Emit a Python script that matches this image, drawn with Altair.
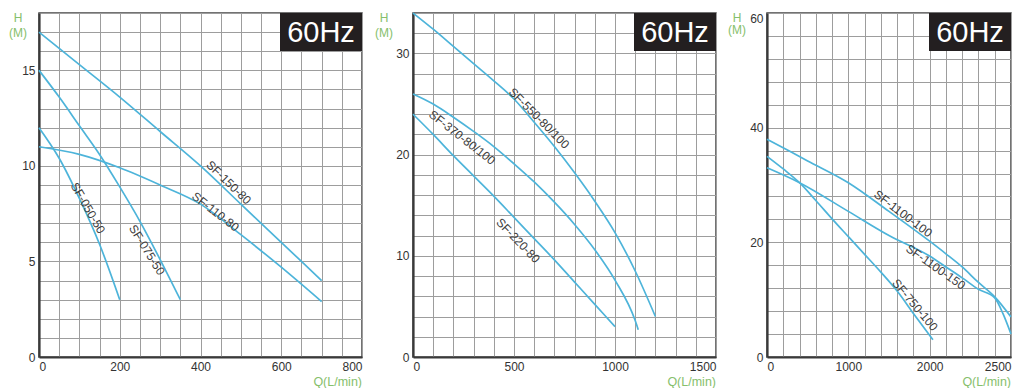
import altair as alt
import pandas as pd

# ---------------- Panel 1: Q 0-800 L/min, H 0-18 m ----------------
Q_050_50 = [0, 50, 100, 150, 200]
H_050_50 = [12.0, 10.4, 8.3, 5.9, 3.0]
Q_075_50 = [0, 50, 100, 150, 200, 250, 300, 350]
H_075_50 = [15.0, 13.6, 12.1, 10.6, 8.9, 7.1, 5.1, 3.0]
Q_110_80 = [0, 100, 200, 300, 400, 500, 600, 700]
H_110_80 = [11.0, 10.6, 9.9, 9.0, 8.0, 6.4, 4.7, 2.9]
Q_150_80 = [0, 100, 200, 300, 400, 500, 600, 700]
H_150_80 = [17.0, 15.3, 13.6, 11.8, 10.0, 8.0, 6.0, 4.0]

P1_LABELS = ["SF-150-80", "SF-110-80", "SF-050-50", "SF-075-50"]
P1_LABEL_Q = [470, 437, 121, 267]
P1_LABEL_H = [9.13, 7.6, 7.8, 5.6]
P1_LABEL_ANGLE = [44, 38, 60, 58]

# ---------------- Panel 2: Q 0-1500 L/min, H 0-34 m ----------------
Q_220_80 = [0, 100, 200, 300, 400, 500, 600, 700, 800, 900, 1000]
H_220_80 = [24.0, 22.0, 19.9, 17.9, 15.9, 13.8, 11.7, 9.6, 7.4, 5.2, 3.0]
Q_370_80 = [0, 100, 200, 300, 400, 500, 600, 700, 800, 900, 1000, 1100, 1115]
H_370_80 = [26.0, 25.0, 23.7, 22.3, 20.8, 19.1, 17.3, 15.3, 13.1, 10.6, 7.6, 3.6, 2.7]
Q_550_80 = [0, 100, 200, 300, 400, 500, 600, 700, 800, 900, 1000, 1100, 1200]
H_550_80 = [34.0, 32.4, 30.7, 29.0, 27.3, 25.5, 23.2, 20.8, 18.2, 15.4, 12.3, 8.5, 4.0]

P2_LABELS = ["SF-550-80/100", "SF-370-80/100", "SF-220-80"]
P2_LABEL_Q = [624, 243, 520]
P2_LABEL_H = [23.6, 21.7, 11.5]
P2_LABEL_ANGLE = [45, 38, 46]

# ---------------- Panel 3: Q 0-2500 L/min, H 0-60 m ----------------
Q_750_100 = [0, 200, 400, 600, 800, 1000, 1200, 1400, 1600, 1800, 2020]
H_750_100 = [35.0, 32.8, 30.4, 27.3, 24.1, 21.0, 17.9, 14.8, 11.5, 7.6, 3.0]
Q_1100_100 = [0, 500, 1000, 1500, 2000, 2100, 2200, 2300, 2400, 2500]
H_1100_100 = [38.0, 34.2, 30.4, 25.4, 20.2, 18.0, 15.7, 13.0, 10.5, 7.0]
Q_1100_150 = [0, 400, 1000, 1500, 2000, 2100, 2200, 2300, 2400, 2450, 2500]
H_1100_150 = [33.0, 30.4, 25.4, 21.2, 17.6, 15.7, 13.8, 11.8, 10.3, 7.6, 4.0]

P3_LABELS = ["SF-1100-100", "SF-1100-150", "SF-750-100"]
P3_LABEL_Q = [1673, 2037, 1820]
P3_LABEL_H = [25.0, 15.7, 9.06]
P3_LABEL_ANGLE = [37, 35, 50]

# axis grids / tick labels
P1_XGRID = list(range(0, 801, 50))
P1_XLAB = [0, 200, 400, 600, 800]
P1_YGRID = list(range(0, 19, 1))
P1_YLAB = [0, 5, 10, 15]
P2_XGRID = list(range(0, 1501, 100))
P2_XLAB = [0, 500, 1000, 1500]
P2_YGRID = list(range(0, 35, 2))
P2_YLAB = [0, 10, 20, 30]
P3_XGRID = list(range(0, 2001, 200)) + [2100, 2200, 2300, 2400, 2500]
P3_XLAB = [0, 1000, 2000, 2500]
P3_YGRID = list(range(0, 61, 4))
P3_YLAB = [0, 20, 40, 60]

FONT = "Liberation Sans"
LINE_COLOR = "#4db4da"
GREEN = "#86c06c"
HEIGHT = 344


def panel(curves, labels, x_dom, x_rng, x_grid, x_lab, y_max, y_grid, y_lab,
          width, h_pos):
    df = pd.concat(
        [pd.DataFrame({"model": n, "Q": q, "H": h}) for n, q, h in curves],
        ignore_index=True,
    )
    names, lq, lh, la = labels
    ldf = pd.DataFrame({"name": names, "Q": lq, "H": lh, "angle": la})

    if x_rng is not None:
        xs = alt.Scale(domain=x_dom, range=x_rng, nice=False, zero=False)
    else:
        xs = alt.Scale(domain=x_dom, nice=False, zero=False)
    ys = alt.Scale(domain=[0, y_max], nice=False, zero=False)

    common = dict(
        grid=True, gridColor="#9d9d9d", gridWidth=1, gridOpacity=1,
        domainColor="#3a3a3a", domainWidth=2.2, ticks=False,
        labelFont=FONT, labelFontSize=12, labelColor="#333333",
        labelOverlap=False, labelBound=False, title=None, format="d",
    )
    x_axis = alt.Axis(
        values=x_grid, labelPadding=4,
        labelExpr=f"indexof({x_lab}, datum.value) >= 0 ? datum.label : ''",
        **common,
    )
    y_axis = alt.Axis(
        values=y_grid, labelPadding=4,
        labelExpr=f"indexof({y_lab}, datum.value) >= 0 ? datum.label : ''",
        labelBaseline={"condition": {"test": f"datum.value == {y_max}", "value": "top"},
                       "value": "middle"},
        **common,
    )
    xe = alt.X("Q:Q", scale=xs, axis=x_axis)
    ye = alt.Y("H:Q", scale=ys, axis=y_axis)

    lines = alt.Chart(df).mark_line(
        color=LINE_COLOR, strokeWidth=1.7, interpolate="monotone"
    ).encode(x=xe, y=ye, detail="model:N")

    texts = alt.Chart(ldf).mark_text(
        font=FONT, fontSize=12, color="#3c3c3c"
    ).encode(x=xe, y=ye, text="name:N", angle=alt.Angle("angle:Q", scale=None))

    tag = pd.DataFrame({"t": ["60Hz"]})
    box = alt.Chart(tag).mark_rect(color="#231f20").encode(
        x=alt.value(width - 82), x2=alt.value(width),
        y=alt.value(0), y2=alt.value(38),
    )
    box_text = alt.Chart(tag).mark_text(
        color="white", fontSize=29, font=FONT
    ).encode(text="t:N", x=alt.value(width - 41), y=alt.value(20))

    hx, hy, my = h_pos
    h_txt = alt.Chart(pd.DataFrame({"t": ["H"]})).mark_text(
        color=GREEN, fontSize=12, font=FONT, baseline="top"
    ).encode(text="t:N", x=alt.value(hx), y=alt.value(hy))
    m_txt = alt.Chart(pd.DataFrame({"t": ["(M)"]})).mark_text(
        color=GREEN, fontSize=12, font=FONT
    ).encode(text="t:N", x=alt.value(hx), y=alt.value(my))
    q_txt = alt.Chart(pd.DataFrame({"t": ["Q(L/min)"]})).mark_text(
        color=GREEN, fontSize=12.5, font=FONT, align="right"
    ).encode(text="t:N", x=alt.value(width), y=alt.value(HEIGHT + 25))

    return alt.layer(lines, texts, box, box_text, h_txt, m_txt, q_txt).properties(
        width=width, height=HEIGHT
    )


W1, W2, W3 = 323, 303, 244

p1 = panel(
    [("SF-050-50", Q_050_50, H_050_50), ("SF-075-50", Q_075_50, H_075_50),
     ("SF-110-80", Q_110_80, H_110_80), ("SF-150-80", Q_150_80, H_150_80)],
    (P1_LABELS, P1_LABEL_Q, P1_LABEL_H, P1_LABEL_ANGLE),
    [0, 800], None, P1_XGRID, P1_XLAB, 18, P1_YGRID, P1_YLAB, W1, (-21, 0, 20),
)
p2 = panel(
    [("SF-220-80", Q_220_80, H_220_80), ("SF-370-80/100", Q_370_80, H_370_80),
     ("SF-550-80/100", Q_550_80, H_550_80)],
    (P2_LABELS, P2_LABEL_Q, P2_LABEL_H, P2_LABEL_ANGLE),
    [0, 1500], None, P2_XGRID, P2_XLAB, 34, P2_YGRID, P2_YLAB, W2, (-29, 0, 20),
)
p3 = panel(
    [("SF-750-100", Q_750_100, H_750_100), ("SF-1100-100", Q_1100_100, H_1100_100),
     ("SF-1100-150", Q_1100_150, H_1100_150)],
    (P3_LABELS, P3_LABEL_Q, P3_LABEL_H, P3_LABEL_ANGLE),
    [0, 2000, 2500], [0, W3 * 10 / 15, W3], P3_XGRID, P3_XLAB, 60, P3_YGRID, P3_YLAB,
    W3, (-30, 0, 17),
)

chart = alt.hconcat(p1, p2, p3, spacing=51, bounds="flush").properties(
    padding=0
).configure(font=FONT).configure_view(stroke="#444444", strokeWidth=1.5)

chart.save("out.html", embed_options={"renderer": "svg", "actions": False})
